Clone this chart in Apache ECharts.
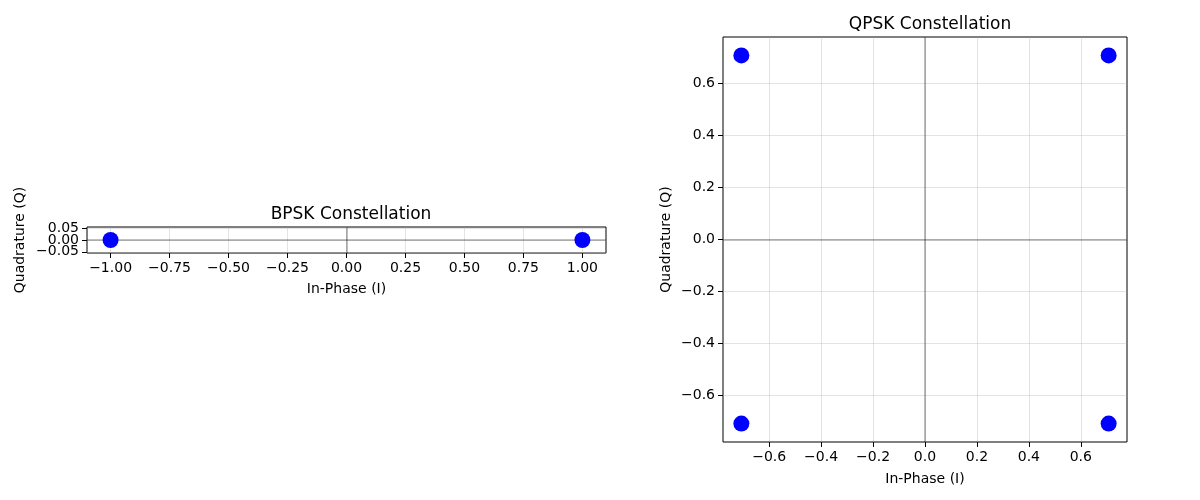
<!DOCTYPE html>
<html><head><meta charset="utf-8">
<script src="https://cdn.jsdelivr.net/npm/echarts@6/dist/echarts.min.js"></script>
<style>html,body{margin:0;padding:0;background:#fff}#c{width:1200px;height:500px}</style>
</head><body><div id="c"></div>
<script>
// BPSK data
const bpskI = [-1, 1];
const bpskQ = [0, 0];
// QPSK data
const qpskI = [0.7071, -0.7071, -0.7071, 0.7071];
const qpskQ = [0.7071, 0.7071, -0.7071, -0.7071];
// tick labels
const bpskXTicks = [-1.0, -0.75, -0.5, -0.25, 0, 0.25, 0.5, 0.75, 1.0];
const bpskYTicks = [-0.05, 0, 0.05];
const qpskXTicks = [-0.6, -0.4, -0.2, 0, 0.2, 0.4, 0.6];
const qpskYTicks = [-0.6, -0.4, -0.2, 0, 0.2, 0.4, 0.6];
const titles = ['BPSK Constellation', 'QPSK Constellation'];
const xName = 'In-Phase (I)';
const yName = 'Quadrature (Q)';

const FONT = 'DejaVu Sans';
const FS = 14;
function fmt(d) { return v => (v < 0 ? '\u2212' : '') + Math.abs(v).toFixed(d); }

function axisCommon(ticks, dec, labelTicks) {
  return {
    axisLine: {show: false, onZero: false},
    axisTick: {show: true, inside: false, length: 5, lineStyle: {color: '#000'}, customValues: ticks},
    axisLabel: {fontFamily: FONT, fontSize: FS, color: '#000', margin: 8, customValues: labelTicks || ticks,
                formatter: fmt(dec), hideOverlap: false, showMinLabel: true, showMaxLabel: true},
    splitLine: {show: false}
  };
}
function xAxisCfg(gi, min, max, ticks, dec, gap) {
  return Object.assign({
    gridIndex: gi, type: 'value', min: min, max: max,
    name: xName, nameLocation: 'middle', nameGap: gap,
    nameTextStyle: {fontFamily: FONT, fontSize: FS, color: '#000'}
  }, axisCommon(ticks, dec));
}
function yAxisCfg(gi, min, max, ticks, dec, gap, labelTicks) {
  return Object.assign({
    gridIndex: gi, type: 'value', min: min, max: max, position: 'left',
    name: yName, nameLocation: 'middle', nameGap: gap, nameRotate: 90,
    nameTextStyle: {fontFamily: FONT, fontSize: FS, color: '#000'}
  }, axisCommon(ticks, dec, labelTicks));
}
function gridLines(gi, xt, yt) {
  const d = [];
  xt.forEach(v => d.push({xAxis: v, lineStyle: {color: 'rgba(176,176,176,0.35)', width: 1, type: 'solid'}}));
  yt.forEach(v => d.push({yAxis: v, lineStyle: {color: 'rgba(176,176,176,0.35)', width: 1, type: 'solid'}}));
  d.push({xAxis: 0, lineStyle: {color: 'rgba(0,0,0,0.33)', width: 1.6, type: 'solid'}});
  d.push({yAxis: 0, lineStyle: {color: 'rgba(0,0,0,0.33)', width: 1.6, type: 'solid'}});
  return {
    type: 'line', xAxisIndex: gi, yAxisIndex: gi, data: [], silent: true, z: 1,
    markLine: {silent: true, symbol: 'none', label: {show: false}, animation: false, data: d}
  };
}
function scatter(gi, xs, ys) {
  return {
    type: 'scatter', xAxisIndex: gi, yAxisIndex: gi, z: 5,
    symbol: 'circle', symbolSize: 16,
    itemStyle: {color: '#0000ff', opacity: 1},
    data: xs.map((x, i) => [x, ys[i]])
  };
}

// BPSK y labels split across two axes so that the tightly packed labels are all drawn
const bpskYOuter = bpskYTicks.filter(v => v !== 0);
const bpskYMiddle = bpskYTicks.filter(v => v === 0);
const extraY = {
  gridIndex: 0, type: 'value', min: -0.055, max: 0.055, position: 'left', offset: 0,
  axisLine: {show: false, onZero: false}, axisTick: {show: false}, splitLine: {show: false},
  axisLabel: {fontFamily: FONT, fontSize: FS, color: '#000', margin: 8, customValues: bpskYMiddle,
              formatter: fmt(2), showMinLabel: true, showMaxLabel: true}
};

const chart = echarts.init(document.getElementById('c'), null, {renderer: 'canvas'});
chart.setOption({
  animation: false,
  backgroundColor: '#fff',
  title: [
    {text: titles[0], left: 346, top: 201, textAlign: 'center',
     textStyle: {fontFamily: FONT, fontSize: 17, fontWeight: 'normal', color: '#000'}},
    {text: titles[1], left: 925, top: 11, textAlign: 'center',
     textStyle: {fontFamily: FONT, fontSize: 17, fontWeight: 'normal', color: '#000'}}
  ],
  grid: [
    {left: 87, top: 227, width: 519, height: 26, show: true, borderColor: '#000', borderWidth: 1, backgroundColor: 'transparent', containLabel: false},
    {left: 723, top: 37, width: 404, height: 405, show: true, borderColor: '#000', borderWidth: 1, backgroundColor: 'transparent', containLabel: false}
  ],
  xAxis: [
    xAxisCfg(0, -1.1, 1.1, bpskXTicks, 2, 29),
    xAxisCfg(1, -0.7778, 0.7778, qpskXTicks, 1, 30)
  ],
  yAxis: [
    yAxisCfg(0, -0.055, 0.055, bpskYTicks, 2, 60, bpskYOuter),
    yAxisCfg(1, -0.7778, 0.7778, qpskYTicks, 1, 50),
    extraY
  ],
  series: [
    gridLines(0, bpskXTicks, bpskYTicks),
    gridLines(1, qpskXTicks, qpskYTicks),
    scatter(0, bpskI, bpskQ),
    scatter(1, qpskI, qpskQ)
  ]
});
</script></body></html>
